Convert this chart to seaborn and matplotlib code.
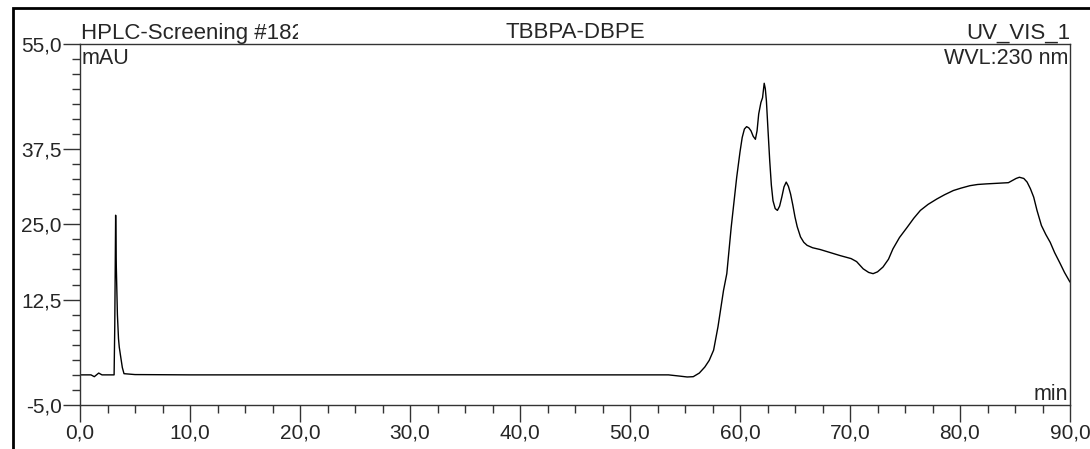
# import the libraries
import numpy as np
import pandas as pd
import seaborn as sns
import matplotlib.pyplot as plt
from matplotlib.patches import Rectangle
from matplotlib.ticker import MultipleLocator, FixedLocator
from matplotlib.transforms import Bbox

# chromatogram values (retention time in min, signal in mAU)
time_min = [
    0.0, 1.0, 1.3, 1.5, 1.7, 2.0, 2.8, 3.1, 3.16, 3.24, 3.3, 3.4, 3.5, 3.57, 3.7,
    3.85, 4.0, 5.0, 10.0, 20.0, 30.0, 40.0, 50.0, 53.5, 54.5, 55.2, 55.75, 56.3,
    56.8, 57.2, 57.6, 58.0, 58.5, 58.8, 59.2, 59.7, 60.0, 60.2, 60.4, 60.6, 60.8,
    61.0, 61.2, 61.4, 61.55, 61.7, 61.9, 62.05, 62.2, 62.3, 62.4, 62.55, 62.7,
    62.85, 63.0, 63.2, 63.4, 63.6, 63.8, 64.0, 64.2, 64.4, 64.6, 64.8, 65.0, 65.2,
    65.5, 65.8, 66.1, 66.6, 67.3, 68.2, 69.1, 70.1, 70.6, 71.2, 71.7, 72.1, 72.5,
    73.0, 73.5, 73.9, 74.5, 75.2, 75.8, 76.4, 77.1, 77.9, 78.6, 79.4, 80.1, 80.9,
    81.6, 82.4, 83.4, 84.4, 84.8, 85.1, 85.4, 85.8, 86.1, 86.4, 86.7, 87.0, 87.4,
    87.8, 88.2, 88.6, 89.1, 89.5, 90.0,
]
signal_mau = [
    0.0, 0.0, -0.3, 0.0, 0.3, 0.0, 0.0, 0.0, 8.0, 26.5, 18.0, 10.0, 6.0, 4.6, 3.0,
    1.2, 0.2, 0.05, 0.0, 0.0, 0.0, 0.0, 0.0, 0.0, -0.2, -0.35, -0.3, 0.3,
    1.3, 2.4, 4.1, 8.0, 14.0, 16.8, 24.5, 32.8, 37.0, 39.4, 40.8, 41.2, 41.0,
    40.5, 39.6, 39.1, 40.5, 43.3, 45.2, 46.0, 48.4, 47.5, 45.5, 40.5, 35.6,
    31.5, 28.9, 27.6, 27.3, 28.0, 29.5, 31.2, 32.0, 31.3, 30.0, 28.2, 26.2, 24.6,
    22.9, 22.0, 21.5, 21.1, 20.8, 20.3, 19.8, 19.3, 18.8, 17.6, 17.0, 16.8, 17.1,
    17.9, 19.2, 20.9, 22.8, 24.5, 26.0, 27.3, 28.3, 29.2, 29.9, 30.6, 31.0, 31.4,
    31.6, 31.7, 31.8, 31.9, 32.3, 32.6, 32.8, 32.6, 32.0, 30.9, 29.5, 27.3, 24.8,
    23.3, 22.0, 20.3, 18.5, 17.0, 15.4,
]
x_ticks = [0, 10, 20, 30, 40, 50, 60, 70, 80, 90]
x_labels = ["0,0", "10,0", "20,0", "30,0", "40,0", "50,0", "60,0", "70,0", "80,0", "90,0"]
y_ticks = [-5, 12.5, 25, 37.5, 55]
y_labels = ["-5,0", "12,5", "25,0", "37,5", "55,0"]

df = pd.DataFrame({"Time (min)": time_min, "Signal (mAU)": signal_mau})

# style and fonts
sns.set_style("ticks")
plt.rcParams["font.family"] = ["Liberation Sans", "DejaVu Sans"]

# set the figure dimensions
fig = plt.figure(figsize=(10.9, 4.49), dpi=100)
ax_h = 405 - 43.5
ax = fig.add_axes([80 / 1090, 1 - 405 / 449, 990 / 1090, ax_h / 449])

# draw the trace
sns.lineplot(data=df, x="Time (min)", y="Signal (mAU)", sort=False,
             color="black", linewidth=1, ax=ax)

# axes limits and ticks
ax.set_xlim(0, 90)
ax.set_ylim(-5, 55)
ax.set_xlabel("")
ax.set_ylabel("")
ax.xaxis.set_major_locator(FixedLocator(x_ticks))
ax.set_xticklabels(x_labels)
ax.xaxis.set_minor_locator(MultipleLocator(2.5))
ax.yaxis.set_major_locator(FixedLocator(y_ticks))
ax.set_yticklabels(y_labels)
ax.yaxis.set_minor_locator(MultipleLocator(2.5))
ax.tick_params(which="major", length=12, width=1, labelsize=15, color="#333333", pad=1)
ax.tick_params(which="minor", length=6, width=1, color="#333333")
for side in ["left", "right", "top", "bottom"]:
    ax.spines[side].set_visible(True)
    ax.spines[side].set_linewidth(1)
    ax.spines[side].set_color("#333333")

# header texts above the plot (first one is cut off at its field edge)
fs = 15.5
hdr = ax.text(0.001, 1 + 5 / ax_h, "HPLC-Screening #182", transform=ax.transAxes,
              ha="left", va="baseline", fontsize=16)
hdr.set_clip_path(None)
hdr.set_clip_box(Bbox.from_extents(0, 0, 298, 449))
hdr.set_clip_on(True)
ax.text(0.5, 1 + 5 / ax_h, "TBBPA-DBPE", transform=ax.transAxes,
        ha="center", va="baseline", fontsize=16)
ax.text(1.0, 1 + 5 / ax_h, "UV_VIS_1", transform=ax.transAxes,
        ha="right", va="baseline", fontsize=16)

# texts inside the plot
ax.text(0.002, 1 - 20 / ax_h, "mAU", transform=ax.transAxes,
        ha="left", va="baseline", fontsize=fs)
ax.text(0.998, 1 - 20 / ax_h, "WVL:230 nm", transform=ax.transAxes,
        ha="right", va="baseline", fontsize=fs)
ax.text(0.998, 5 / ax_h, "min", transform=ax.transAxes,
        ha="right", va="baseline", fontsize=fs)

# outer frame of the report page
fig.add_artist(Rectangle((13 / 1090, -0.2), 2, 1.2 - 8 / 449, transform=fig.transFigure,
                         fill=False, linewidth=2, edgecolor="black"))

fig.savefig("out.png", dpi=100)
